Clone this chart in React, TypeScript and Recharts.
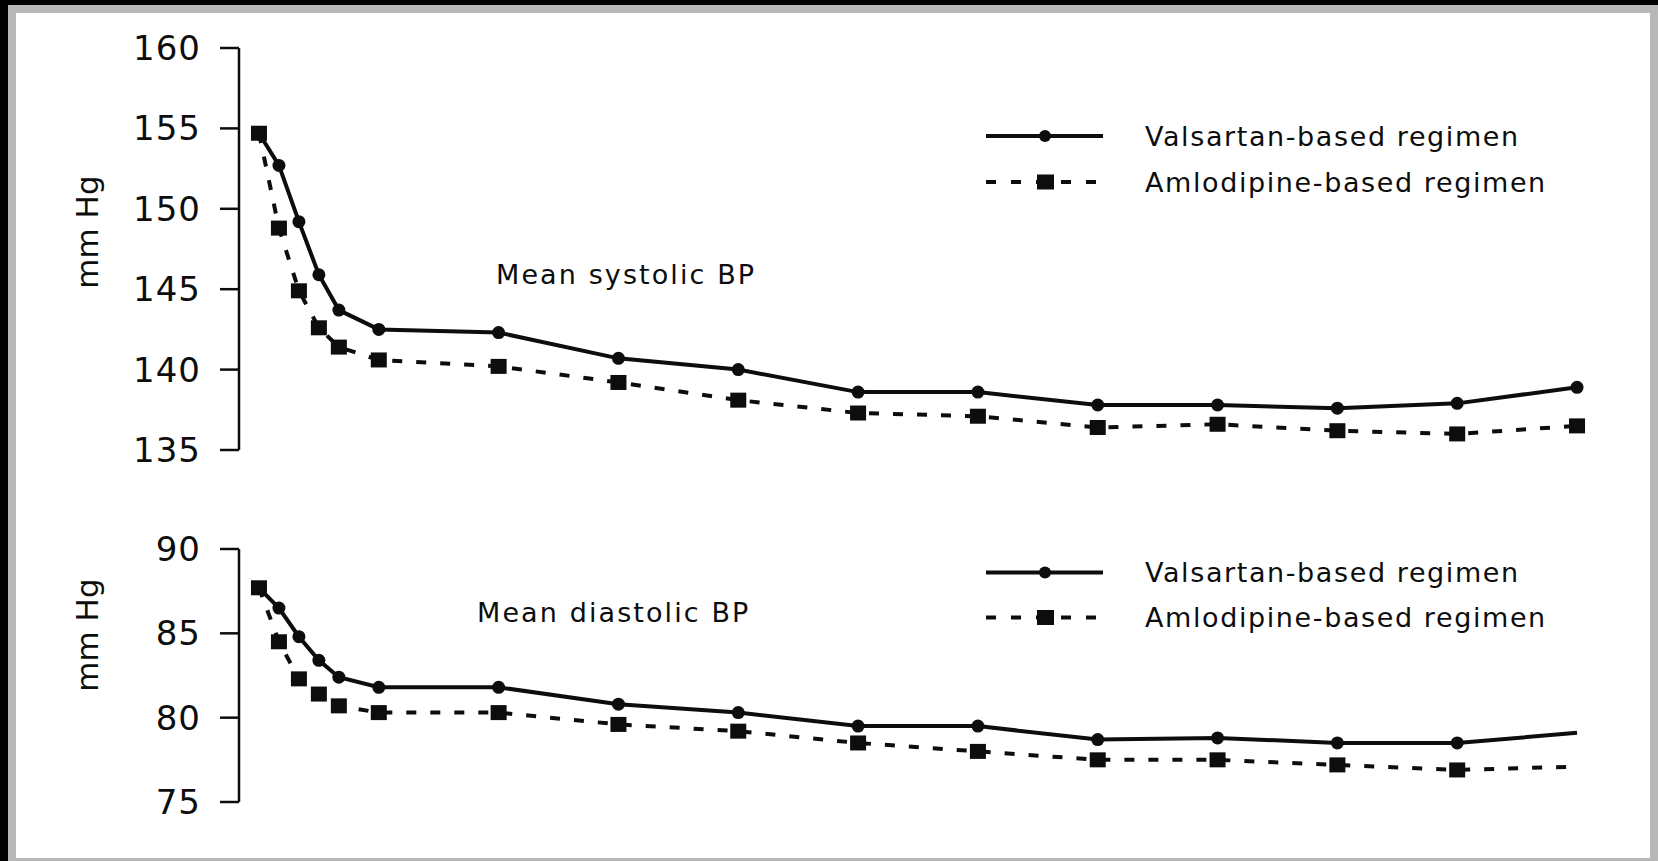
import { Legend, Line, LineChart, XAxis, YAxis } from "recharts";

const FONT = '"DejaVu Sans", Verdana, sans-serif';
const INK = "#0d0d0d";

// visit month for every measurement
const months = [0, 1, 2, 3, 4, 6, 12, 18, 24, 30, 36, 42, 48, 54, 60, 66];

const systolicValsartan = [154.7, 152.7, 149.2, 145.9, 143.7, 142.5, 142.3, 140.7, 140.0, 138.6, 138.6, 137.8, 137.8, 137.6, 137.9, 138.9];
const systolicAmlodipine = [154.7, 148.8, 144.9, 142.6, 141.4, 140.6, 140.2, 139.2, 138.1, 137.3, 137.1, 136.4, 136.6, 136.2, 136.0, 136.5];

const diastolicValsartan = [87.7, 86.5, 84.8, 83.4, 82.4, 81.8, 81.8, 80.8, 80.3, 79.5, 79.5, 78.7, 78.8, 78.5, 78.5, 79.1];
const diastolicAmlodipine = [87.7, 84.5, 82.3, 81.4, 80.7, 80.3, 80.3, 79.6, 79.2, 78.5, 78.0, 77.5, 77.5, 77.2, 76.9, 77.1];

const systolicTicks = [135, 140, 145, 150, 155, 160];
const diastolicTicks = [75, 80, 85, 90];

const seriesOrder = ["valsartan", "amlodipine"];
const seriesNames: Record<string, string> = {
  valsartan: "Valsartan-based regimen",
  amlodipine: "Amlodipine-based regimen",
};

function buildRows(valsartan: number[], amlodipine: number[]) {
  return months.map((month, i) => ({
    month,
    valsartan: valsartan[i],
    amlodipine: amlodipine[i],
  }));
}

function circleDot(skipLast: boolean) {
  return (props: any) => {
    const { cx, cy, index } = props;
    if (skipLast && index === months.length - 1) return <g key={`c-${index}`} />;
    return <circle key={`c-${index}`} cx={cx} cy={cy} r={6.5} fill={INK} />;
  };
}

function squareDot(skipLast: boolean) {
  return (props: any) => {
    const { cx, cy, index } = props;
    if (skipLast && index === months.length - 1) return <g key={`s-${index}`} />;
    return <rect key={`s-${index}`} x={cx - 8} y={cy - 7.5} width={16} height={15} fill={INK} />;
  };
}

function mmHgLabel(centerY: number) {
  return (props: any) => {
    const x = (props.viewBox?.x ?? 0) + 98;
    return (
      <text
        x={x}
        y={centerY}
        transform={`rotate(-90, ${x}, ${centerY})`}
        textAnchor="middle"
        fontFamily={FONT}
        fontSize={31}
        fill={INK}
      >
        mm Hg
      </text>
    );
  };
}

function BpLegend({ payload, rowHeight }: any) {
  const items = [...(payload ?? [])].sort(
    (a: any, b: any) => seriesOrder.indexOf(a.dataKey) - seriesOrder.indexOf(b.dataKey)
  );
  return (
    <div style={{ fontFamily: FONT }}>
      {items.map((entry: any) => {
        const dashed = entry.dataKey === "amlodipine";
        const mid = rowHeight / 2;
        return (
          <div key={entry.dataKey} style={{ display: "flex", alignItems: "center", height: rowHeight }}>
            <svg width={159} height={rowHeight} style={{ flex: "none" }}>
              <line
                x1={0}
                x2={dashed ? 110 : 117}
                y1={mid}
                y2={mid}
                stroke={INK}
                strokeWidth={4}
                strokeDasharray={dashed ? "10 15" : undefined}
              />
              {dashed ? (
                <rect x={51} y={mid - 7.5} width={17} height={15} fill={INK} />
              ) : (
                <circle cx={59} cy={mid} r={6} fill={INK} />
              )}
            </svg>
            <span style={{ fontSize: 27, letterSpacing: 1.6, color: INK, whiteSpace: "nowrap" }}>
              {seriesNames[entry.dataKey] ?? entry.value}
            </span>
          </div>
        );
      })}
    </div>
  );
}

type PanelProps = {
  top: number;
  height: number;
  margin: { top: number; bottom: number };
  domain: [number, number];
  ticks: number[];
  rows: ReturnType<typeof buildRows>;
  labelY: number;
  legendTop: number;
  legendRow: number;
  skipLastDot: boolean;
};

function BpPanel({ top, height, margin, domain, ticks, rows, labelY, legendTop, legendRow, skipLastDot }: PanelProps) {
  return (
    <div style={{ position: "absolute", left: 0, top }}>
      <LineChart
        width={1658}
        height={height}
        data={rows}
        margin={{ top: margin.top, bottom: margin.bottom, left: 0, right: 61 }}
      >
        <XAxis type="number" dataKey="month" domain={[-1, 67]} hide />
        <YAxis
          type="number"
          width={239}
          domain={domain}
          ticks={ticks}
          interval={0}
          allowDataOverflow
          tickSize={19}
          tickMargin={19}
          axisLine={{ stroke: INK, strokeWidth: 2.5 }}
          tickLine={{ stroke: INK, strokeWidth: 2.5 }}
          tick={{ fill: INK, fontSize: 34, fontFamily: FONT, letterSpacing: 1 }}
          label={{ content: mmHgLabel(labelY) }}
        />
        <Legend
          layout="horizontal"
          verticalAlign="middle"
          align="center"
          itemSorter={null as any}
          wrapperStyle={{ left: 986, top: legendTop, width: 600 }}
          content={(props: any) => <BpLegend {...props} rowHeight={legendRow} />}
        />
        <Line
          type="linear"
          dataKey="valsartan"
          name={seriesNames.valsartan}
          stroke={INK}
          strokeWidth={4}
          dot={circleDot(skipLastDot)}
          activeDot={false}
          isAnimationActive={false}
        />
        <Line
          type="linear"
          dataKey="amlodipine"
          name={seriesNames.amlodipine}
          stroke={INK}
          strokeWidth={4}
          strokeDasharray="10 14"
          dot={squareDot(skipLastDot)}
          activeDot={false}
          isAnimationActive={false}
        />
      </LineChart>
    </div>
  );
}

const titleStyle = {
  position: "absolute" as const,
  fontFamily: FONT,
  fontSize: 27,
  letterSpacing: 2.1,
  lineHeight: "40px",
  color: INK,
  whiteSpace: "nowrap" as const,
};

export default function App() {
  const systolicRows = buildRows(systolicValsartan, systolicAmlodipine);
  const diastolicRows = buildRows(diastolicValsartan, diastolicAmlodipine);

  return (
    <div style={{ position: "absolute", left: 0, top: 0, width: 1658, height: 861, background: "#000", overflow: "hidden" }}>
      <div style={{ position: "absolute", left: 8, top: 5, right: 0, bottom: 0, background: "#b8b8b8" }} />
      <div style={{ position: "absolute", left: 16, top: 13, width: 1634, height: 845, background: "#fff" }} />

      <BpPanel
        top={0}
        height={480}
        margin={{ top: 48, bottom: 30 }}
        domain={[135, 160]}
        ticks={systolicTicks}
        rows={systolicRows}
        labelY={232}
        legendTop={113}
        legendRow={46}
        skipLastDot={false}
      />
      <BpPanel
        top={500}
        height={340}
        margin={{ top: 49, bottom: 38 }}
        domain={[75, 90]}
        ticks={diastolicTicks}
        rows={diastolicRows}
        labelY={135}
        legendTop={50}
        legendRow={45}
        skipLastDot
      />

      <div style={{ ...titleStyle, left: 496, top: 255 }}>Mean systolic BP</div>
      <div style={{ ...titleStyle, left: 477, top: 593 }}>Mean diastolic BP</div>
    </div>
  );
}
